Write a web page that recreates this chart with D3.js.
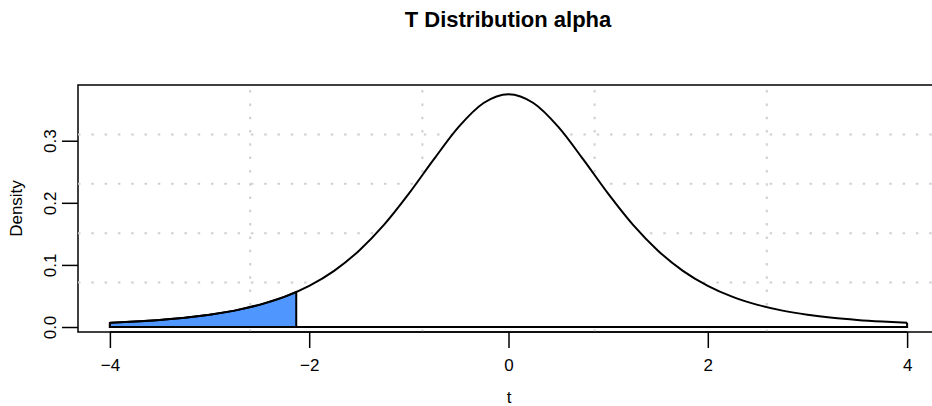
<!DOCTYPE html>
<html>
<head>
<meta charset="utf-8">
<script src="https://cdn.jsdelivr.net/npm/d3@7"></script>
<style>
  body { margin: 0; background: #fff; }
  text { font-family: "Liberation Sans", Arial, sans-serif; fill: #000; }
</style>
</head>
<body>
<svg width="932" height="406"></svg>
<script>
// t values along the curve and the density
var tValues = [-4, -3.75, -3.5, -3.25, -3, -2.75, -2.5, -2.25, -2, -1.75, -1.5, -1.25, -1, -0.75, -0.5, -0.25,
  0, 0.25, 0.5, 0.75, 1, 1.25, 1.5, 1.75, 2, 2.25, 2.5, 2.75, 3, 3.25, 3.5, 3.75, 4];
var density = [0.0067, 0.0087, 0.0113, 0.0148, 0.0197, 0.0264, 0.0357, 0.0485, 0.0663, 0.0905, 0.1229, 0.1644,
  0.2147, 0.2699, 0.3223, 0.3608, 0.375, 0.3608, 0.3223, 0.2699, 0.2147, 0.1644, 0.1229, 0.0905, 0.0663,
  0.0485, 0.0357, 0.0264, 0.0197, 0.0148, 0.0113, 0.0087, 0.0067];
var tCrit = -2.13, densCrit = 0.0564;   // lower tail cut-off
var xTicks = [-4, -2, 0, 2, 4];
var yTicks = [0, 0.1, 0.2, 0.3];

(function() {
var svg = d3.select("svg");
var pLeft = 78, pRight = 939, pTop = 85, pBottom = 332;

// R style ranges: data range stretched by 4% on each side
var xr = d3.extent(tValues), yr = d3.extent(density);
var xPad = (xr[1] - xr[0]) * 0.04, yPad = (yr[1] - yr[0]) * 0.04;
var x = d3.scaleLinear().domain([xr[0] - xPad, xr[1] + xPad]).range([pLeft, pRight]);
var y = d3.scaleLinear().domain([yr[0] - yPad, yr[1] + yPad]).range([pBottom, pTop]);

var pts = tValues.map(function(t, i) { return [t, density[i]]; });
var line = d3.line().x(function(d) { return x(d[0]); }).y(function(d) { return y(d[1]); });

// plot box
svg.append("rect")
  .attr("x", pLeft).attr("y", pTop)
  .attr("width", pRight - pLeft).attr("height", pBottom - pTop)
  .attr("fill", "none").attr("stroke", "#000").attr("stroke-width", 1.5);

// grid, like grid(): equal splits of the plot region
var gx = d3.range(1, 5).map(function(k) { return x.domain()[0] + k * (x.domain()[1] - x.domain()[0]) / 5; });
var gy = d3.range(1, 5).map(function(k) { return y.domain()[0] + k * (y.domain()[1] - y.domain()[0]) / 5; });
var grid = svg.append("g")
  .attr("stroke", "#cfcfcf").attr("stroke-width", 2)
  .attr("stroke-dasharray", "2.5,10.8");
grid.selectAll(".gv").data(gx).enter().append("line")
  .attr("x1", function(d) { return x(d); }).attr("x2", function(d) { return x(d); })
  .attr("y1", pBottom).attr("y2", pTop);
grid.selectAll(".gh").data(gy).enter().append("line")
  .attr("y1", function(d) { return y(d); }).attr("y2", function(d) { return y(d); })
  .attr("x1", pLeft).attr("x2", pRight);

// whole density polygon, white
var full = [[tValues[0], 0]].concat(pts, [[tValues[tValues.length - 1], 0]]);
svg.append("path")
  .attr("d", line.curve(d3.curveLinearClosed)(full))
  .attr("fill", "#fff").attr("stroke", "none");

// shaded tail
var tail = pts.filter(function(p) { return p[0] <= tCrit; });
var shade = [[tValues[0], 0]].concat(tail, [[tCrit, densCrit], [tCrit, 0]]);
svg.append("path")
  .attr("d", line.curve(d3.curveLinearClosed)(shade))
  .attr("fill", "#4f97ff").attr("stroke", "#000").attr("stroke-width", 2);

// curve and baseline outline
svg.append("path")
  .attr("d", line.curve(d3.curveMonotoneX)(pts))
  .attr("fill", "none").attr("stroke", "#000").attr("stroke-width", 2);
svg.append("path")
  .attr("d", "M" + x(tValues[0]) + "," + y(density[0]) + "V" + y(0) + "H" + x(tValues[tValues.length - 1]) + "V" + y(density[density.length - 1]))
  .attr("fill", "none").attr("stroke", "#000").attr("stroke-width", 2);

// axes
var xAxis = svg.append("g").attr("transform", "translate(0," + pBottom + ")")
  .call(d3.axisBottom(x).tickValues(xTicks).tickSize(16).tickPadding(11)
    .tickFormat(function(d) { return d < 0 ? "\u2212" + Math.abs(d) : d; }));
var yAxis = svg.append("g").attr("transform", "translate(" + pLeft + ",0)")
  .call(d3.axisLeft(y).tickValues(yTicks).tickSize(16).tickFormat(d3.format(".1f")));
[xAxis, yAxis].forEach(function(a) {
  a.select(".domain").remove();
  a.selectAll("line").attr("stroke", "#000").attr("stroke-width", 1.5);
  a.selectAll("text").style("font-size", "17px").style("font-family", "Liberation Sans, Arial, sans-serif");
});
xAxis.append("line").attr("x1", x(xTicks[0])).attr("x2", x(xTicks[xTicks.length - 1]))
  .attr("stroke", "#000").attr("stroke-width", 1.5);
yAxis.selectAll("text")
  .attr("transform", "rotate(-90)")
  .attr("text-anchor", "middle")
  .attr("x", 0).attr("y", -22).attr("dy", "0");

// titles
svg.append("text").attr("x", 508).attr("y", 27).attr("text-anchor", "middle")
  .style("font-size", "22px").style("font-weight", "bold").text("T Distribution alpha");
svg.append("text").attr("x", 509).attr("y", 403).attr("text-anchor", "middle")
  .style("font-size", "17px").text("t");
svg.append("text").attr("transform", "translate(22," + (pTop + pBottom) / 2 + ") rotate(-90)")
  .attr("text-anchor", "middle").style("font-size", "17px").text("Density");
})();
</script>
</body>
</html>
